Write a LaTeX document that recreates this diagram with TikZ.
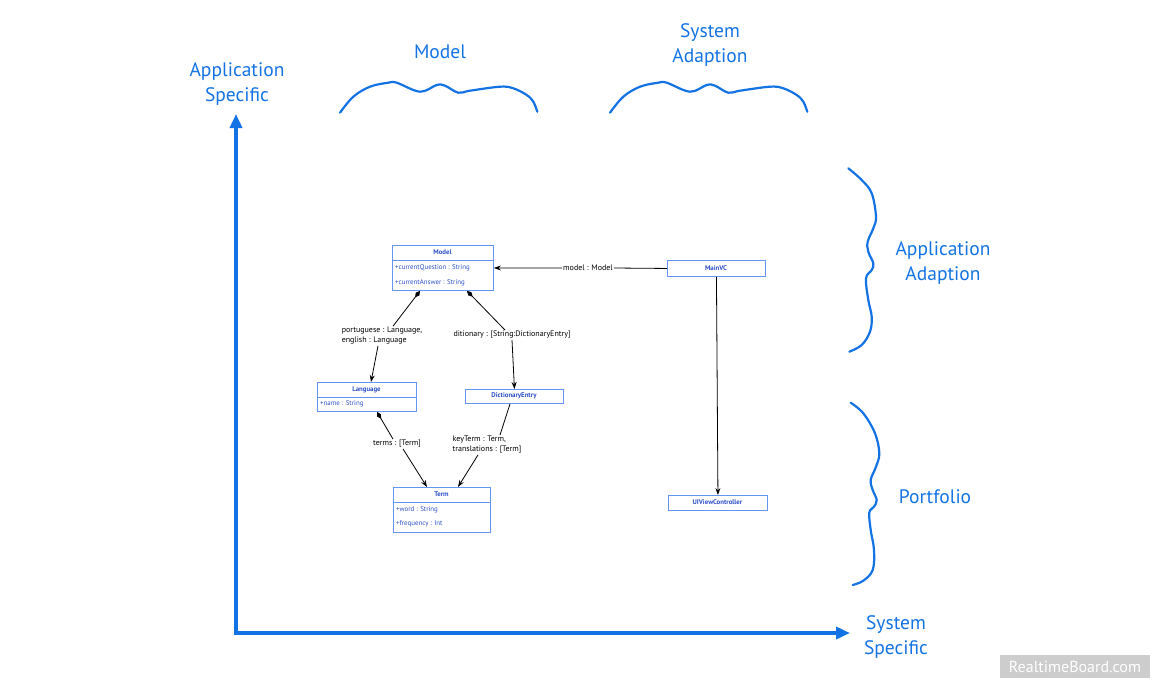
\documentclass[tikz,border=0pt]{standalone}
\usepackage{fontspec}
\setmainfont{PT Sans}
\usetikzlibrary{arrows.meta,calc}
\definecolor{axisblue}{RGB}{20,115,228}
\definecolor{boxblue}{RGB}{100,150,240}
\definecolor{txtblue}{RGB}{45,80,200}
\definecolor{wmgray}{RGB}{205,205,205}
\begin{document}
\begin{tikzpicture}[x=1pt,y=-1pt,
  bigtext/.style={text=axisblue, font=\fontsize{19.5}{24.5}\selectfont, align=center, inner sep=0pt},
  axisline/.style={draw=axisblue, line width=4pt, -{Triangle[length=14pt,width=12pt]}},
  brace/.style={draw=axisblue, line width=2.2pt, line cap=round},
  umlbox/.style={draw=boxblue, line width=0.9pt, anchor=north west, inner sep=0pt},
  umltitle/.style={text=txtblue, font=\fontsize{6.8}{8}\selectfont\bfseries, inner sep=0pt},
  umlattr/.style={text=txtblue, font=\fontsize{6.9}{8}\selectfont, anchor=west, inner sep=0pt},
  conn/.style={draw=black, line width=0.8pt},
  comp/.style={conn, {Diamond[length=8pt,width=4.5pt]}-},
  arr/.style={conn, -{Stealth[length=7pt,width=5pt]}},
  lab/.style={font=\fontsize{8}{10}\selectfont, align=left, inner sep=1pt}
]
\useasboundingbox (0,0) rectangle (1160,689);

% axes
\coordinate (O) at (236,633);
\coordinate (Ytip) at (236,114);
\coordinate (Xtip) at (850,633);
\draw[axisline] (O) -- (Ytip);
\draw[axisline] ($(O)+(-2,0)$) -- (Xtip);

% big labels
\node[bigtext] (appspec) at (237,84) {Application\\Specific};
\node[bigtext] (sysspec) at (896,637) {System\\Specific};
\node[bigtext] (modellab) at (440,51.5) {Model};
\node[bigtext] (sysadapt) at (710,45) {System\\Adaption};
\node[bigtext] (appadapt) at (943,263) {Application\\Adaption};
\node[bigtext] (portfolio) at (935,496.5) {Portfolio};

% top braces
\foreach \dx in {0,270}{
\draw[brace, shift={(\dx,0)}] plot[smooth, tension=0.6] coordinates {(340,112.7) (353.3,96.7) (370,86.7) (388.3,82.7) (396.7,82.7) (420,91.7) (436.7,85) (445,85.7) (458.3,92.7) (470,90.7) (500,86.7) (513.3,88.3) (526.7,95) (533.3,101.7) (537.3,111.7)};
}
% right braces
\draw[brace] plot[smooth, tension=0.6] coordinates {(848.3,168.3) (861.7,180) (871.7,193.3) (876,216.7) (873.3,228.3) (867.7,241.7) (868.3,251.7) (873.3,263.3) (871.7,270) (866,278.3) (868.3,300) (871.7,316.7) (870,331.7) (861.7,345) (849.3,351.7)};
\draw[brace] plot[smooth, tension=0.6] coordinates {(850.7,402.7) (863.3,413.3) (875,433.3) (879.3,453.3) (876,466.7) (870.7,480) (872.7,490) (876.7,500) (874,506.7) (869.3,512.7) (870.7,530) (874,550) (872.7,570) (863.3,580.7) (852.7,585)};

% UML boxes
\node[umlbox, minimum width=101pt, minimum height=45pt] (model) at (392,245) {};
\draw[boxblue, line width=0.9pt] (392,260) -- (493,260);
\node[umltitle] (modelt) at (442.5,252.5) {Model};
\node[umlattr] (modela1) at (395,268) {+currentQuestion : String};
\node[umlattr] (modela2) at (395,283) {+currentAnswer : String};

\node[umlbox, minimum width=99pt, minimum height=29pt] (language) at (317,382) {};
\draw[boxblue, line width=0.9pt] (317,397) -- (416,397);
\node[umltitle] (languaget) at (366.5,389.5) {Language};
\node[umlattr] (languagea1) at (320,404) {+name : String};

\node[umlbox, minimum width=98pt, minimum height=14pt] (dict) at (465,389) {};
\node[umltitle] (dictt) at (514,396) {DictionaryEntry};

\node[umlbox, minimum width=97pt, minimum height=45pt] (term) at (393,487) {};
\draw[boxblue, line width=0.9pt] (393,502) -- (490,502);
\node[umltitle] (termt) at (441.5,494.5) {Term};
\node[umlattr] (terma1) at (396,510) {+word : String};
\node[umlattr] (terma2) at (396,524) {+frequency : Int};

\node[umlbox, minimum width=98pt, minimum height=16pt] (mainvc) at (667,260) {};
\node[umltitle] (mainvct) at (716,268) {MainVC};

\node[umlbox, minimum width=99pt, minimum height=15pt] (uivc) at (668,495) {};
\node[umltitle] (uivct) at (717.5,502.5) {UIViewController};

% connector labels
\node[lab] (lmm) at (588,268) {model : Model};
\node[lab] (lpe) at (382,336) {portuguese : Language,\\english : Language};
\node[lab] (ldict) at (512,335) {ditionary : [String:DictionaryEntry]};
\node[lab] (lterms) at (397,444) {terms : [Term]};
\node[lab] (lkey) at (487,445) {keyTerm : Term,\\translations : [Term]};

% connectors
\draw[conn] (mainvc.west) -- (lmm.east);
\draw[arr] (lmm.west) -- (model.east);
\draw[arr] (mainvc.south) -- (uivc.north);

\draw[comp] ($(model.south west)+(28,0)$) -- ($(lpe.north)+(11,0)$);
\draw[arr] ($(lpe.south)+(-4,0)$) -- ($(language.north west)+(54,0)$);

\draw[comp] ($(model.south west)+(75,0)$) -- ($(ldict.north)+(-7,0)$);
\draw[arr] (ldict.south) -- (dict.north);

\draw[comp] ($(language.south west)+(60,0)$) -- ($(lterms.north)+(-4,0)$);
\draw[arr] ($(lterms.south)+(6,0)$) -- ($(term.north west)+(34,0)$);

\draw[conn] ($(dict.south west)+(45,0)$) -- ($(lkey.north)+(13,0)$);
\draw[arr] ($(lkey.south)+(-9,0)$) -- ($(term.north west)+(65,0)$);

% watermark
\node[fill=wmgray, anchor=north west, minimum width=150pt, minimum height=23pt, inner sep=0pt] (wm) at (1000,655) {};
\node[text=white, font=\fontsize{16}{18}\selectfont, inner sep=0pt] (wmt) at (1075,666.5) {RealtimeBoard.com};
\end{tikzpicture}
\end{document}
